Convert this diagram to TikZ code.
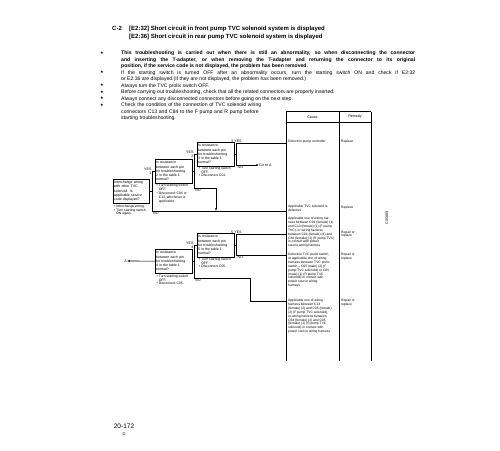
\documentclass[tikz,border=0pt]{standalone}
\usepackage{fontspec}
\setmainfont{Liberation Sans}
\newfontfamily\dejavu{DejaVu Sans}
\usetikzlibrary{arrows.meta}
\begin{document}
\begin{tikzpicture}[x=1pt,y=-1pt,
  qbox/.style={draw, line width=0.7pt, anchor=north west, inner sep=0.8pt, minimum height=23.5pt, align=left, font=\fontsize{3.5}{4.3}\selectfont},
  note/.style={anchor=north west, inner sep=0pt, align=left, font=\fontsize{3.4}{3.9}\selectfont},
  lbl/.style={inner sep=0pt, font=\fontsize{3.6}{4}\selectfont},
  cause/.style={anchor=north west, inner sep=0pt, align=left, font=\fontsize{3.3}{3.85}\selectfont},
  bul/.style={anchor=north west, inner sep=0pt, text width=294pt, align=justify, font=\fontsize{5.1}{6.5}\selectfont},
  star/.style={inner sep=0pt, font=\dejavu\fontsize{4}{4}\selectfont},
  conn/.style={line width=0.6pt},
  tip/.style={-{Latex[length=2.6pt,width=2pt]}},
  tbl/.style={line width=0.8pt}
]
\fill[white] (0,0) rectangle (500,450);
\useasboundingbox (0,0) rectangle (500,450);

% title
\node[anchor=base west, inner sep=0pt, font=\bfseries\fontsize{6}{7}\selectfont] (c2) at (112,30) {C-2};
\node[anchor=base west, inner sep=0pt, font=\bfseries\fontsize{6}{7}\selectfont] (t1) at (129,30) {[E2:32] Short circuit in front pump TVC solenoid system is displayed};
\node[anchor=base west, inner sep=0pt, font=\bfseries\fontsize{6}{7}\selectfont] (t2) at (129,38) {[E2:36] Short circuit in rear pump TVC solenoid system is displayed};

% bullets
\node[star] (s1) at (102,53) {★};
\node[bul, font=\bfseries\fontsize{5.1}{6.5}\selectfont] (p1) at (121,51) {This troubleshooting is carried out when there is still an abnormality, so when disconnecting the connector\linebreak and inserting the T-adapter, or when removing the T-adapter and returning the connector to its original\linebreak position, if the service code is not displayed, the problem has been removed.};
\node[star] (s2) at (102,72.5) {★};
\node[bul] (p2) at (121,70.5) {If the starting switch is turned OFF after an abnormality occurs, turn the starting switch ON and check if E2:32\linebreak or E2:36 are displayed.(If they are not displayed, the problem has been removed.)};
\node[star] (s3) at (102,85.5) {★};
\node[bul] (p3) at (121,83.5) {Always turn the TVC prolix switch OFF.};
\node[star] (s4) at (102,92) {★};
\node[bul] (p4) at (121,90) {Before carrying out troubleshooting, check that all the related connectors are properly inserted.};
\node[star] (s5) at (102,98.5) {★};
\node[bul] (p5) at (121,96.5) {Always connect any disconnected connectors before going on the next step.};
\node[star] (s6) at (102,105) {★};
\node[bul, text width=150pt, align=left] (p6) at (121,103) {Check the condition of the connection of TVC solenoid wiring\\connectors C13 and C84 to the F pump and R pump before\\starting troubleshooting.};

% table
\draw[tbl] (286,111.5) -- (371,111.5);
\draw[tbl] (286,122) -- (371,122);
\draw[tbl] (286,111.5) -- (286,361);
\draw[tbl] (339,111.5) -- (339,361);
\draw[tbl] (371,111.5) -- (371,361);
\node[lbl] (hc) at (312.5,117) {Cause};
\node[lbl] (hr) at (355,117) {Remedy};

\coordinate (r1) at (286,143);
\coordinate (r2) at (286,211);
\coordinate (r3) at (286,234);
\coordinate (r4) at (286,255);
\coordinate (r5) at (286,301);

\node[cause] (k1) at (288,140.3) {Defective pump controller};
\node[cause] (k2) at (288,205.3) {Applicable TVC solenoid is\\defective};
\node[cause] (k3) at (288,217.3) {Applicable one of wiring har-\\ness between C01 (female) (4)\\and C13 (female) (1) (F pump\\TVC), or wiring harness\\between C01 (female) (4) and\\C84 (female) (1) (R pump TVC)\\in contact with power\\source wiring harness};
\node[cause] (k4) at (288,253.3) {Defective TVC prolix switch,\\or applicable one of wiring\\harness between TVC prolix\\switch – C05 (male) (2) (F\\pump TVC solenoid) or C05\\(male) (1) (R pump TVC\\solenoid) in contact with\\power source wiring\\harness};
\node[cause] (k5) at (288,299.3) {Applicable one of wiring\\harness between C13\\(female) (2) and C05 (female)\\(2) (F pump TVC solenoid),\\or wiring harness between\\C84 (female) (2) and C05\\(female) (1) (R pump TVC\\solenoid) in contact with\\power source wiring harness};
\node[cause] (m1) at (341,140.3) {Replace};
\node[cause] (m2) at (341,206) {Replace};
\node[cause] (m3) at (341,230.5) {Repair or\\replace};
\node[cause] (m4) at (341,253.3) {Repair or\\replace};
\node[cause] (m5) at (341,299.3) {Repair or\\replace};

% boxes
\node[qbox, minimum width=36pt, text width=34.4pt, minimum height=24pt] (b1) at (113,179) {Interchange wiring\\with other TVC\\solenoid. Is\\applicable service\\code displayed?};
\node[qbox, minimum width=37pt, text width=35.4pt] (b2) at (155,159) {Is resistance\\between each pin\\for troubleshooting\\2 in the table 1\\normal?};
\node[qbox, minimum width=37pt, text width=35.4pt] (b3) at (197,142) {Is resistance\\between each pin\\for troubleshooting\\3 in the table 1\\normal?};
\node[qbox, minimum width=37pt, text width=35.4pt] (b4) at (155,249) {Is resistance\\between each pin\\for troubleshooting\\4 in the table 1\\normal?};
\node[qbox, minimum width=37pt, text width=35.4pt] (b5) at (197,233) {Is resistance\\between each pin\\for troubleshooting\\5 in the table 1\\normal?};

% notes
\node[note] (n1) at (114,204.5) {• Interchange wiring.\\• Turn starting switch\\\hphantom{• }ON again.};
\node[note] (n2) at (156.5,184) {• Turn starting switch\\\hphantom{• }OFF.\\• Disconnect C84 or\\\hphantom{• }C13, whichever is\\\hphantom{• }applicable.};
\node[note] (n3) at (199,166.5) {• Turn starting switch\\\hphantom{• }OFF.\\• Disconnect C01.};
\node[note] (n4) at (156.5,274.5) {• Turn starting switch\\\hphantom{• }OFF.\\• Disconnect C05.};
\node[note] (n5) at (199,257.5) {• Turn starting switch\\\hphantom{• }OFF.\\• Disconnect C05.};

% junctions
\coordinate (j1) at (152,211);
\coordinate (j2) at (194,188);
\coordinate (j3) at (236,165);
\coordinate (j4) at (194,278);
\coordinate (j5) at (236,255);
\coordinate (d2) at (216,211);
\coordinate (k4c) at (250,278);

% connectors upper
\draw[conn] (b1.east) -- (b1.east -| j1);
\draw[conn] (b2.west) -| (j1);
\draw[conn] (j1) -- (r2);
\draw[conn] (b2.east) -- (b2.east -| j2);
\draw[conn] (b3.west) -| (j2);
\draw[conn,tip] (j2) -| (d2);
\draw[conn] (b3.east) -- (b3.east -| j3);
\draw[conn] (r1) -| (j3);
\node[lbl, anchor=west] (goA) at (259,165) {Go to A};
\draw[conn,tip] (j3) -- (goA.west);

% connectors lower
\node[lbl, anchor=east] (A) at (127,261) {A};
\draw[conn,tip] (b4.west) -- (A.east);
\draw[conn] (b4.east) -- (b4.east -| j4);
\draw[conn] (b5.west) -| (j4);
\draw[conn] (j4) -- (k4c) |- (r5);
\draw[conn] (b5.east) -- (b5.east -| j5);
\draw[conn] (r3) -| (j5);
\draw[conn] (j5) -- (r4);

% labels
\node[lbl, anchor=south east] (y1) at (151.6,170.3) {YES};
\node[lbl, anchor=north east] (q1) at (151.6,171.4) {1};
\node[lbl, anchor=south east] (y2) at (193.6,153.3) {YES};
\node[lbl, anchor=north east] (q2) at (193.6,154.4) {2};
\node[lbl, anchor=south west] (y3) at (231,142.4) {3\,\,YES};
\node[lbl, anchor=south east] (y4) at (193.6,244.3) {YES};
\node[lbl, anchor=north east] (q4) at (193.6,245.4) {4};
\node[lbl, anchor=south west] (y5) at (231,233.4) {5\,\,YES};
\node[lbl, anchor=north west] (o1) at (153,211.8) {NO};
\node[lbl, anchor=north west] (o2) at (195,188.8) {NO};
\node[lbl, anchor=north west] (o3) at (237.5,165.8) {NO};
\node[lbl, anchor=north west] (o4) at (195,278.8) {NO};
\node[lbl, anchor=north west] (o5) at (237.5,255.8) {NO};

% side code and page number
\node[lbl, rotate=90] (code) at (387,218) {C05889};
\node[inner sep=0pt, font=\fontsize{6.5}{7}\selectfont] (pg) at (124,426) {20-172};
\node[inner sep=0pt, font=\dejavu\fontsize{4}{4}\selectfont] (pc) at (124,434) {②};
\end{tikzpicture}
\end{document}
